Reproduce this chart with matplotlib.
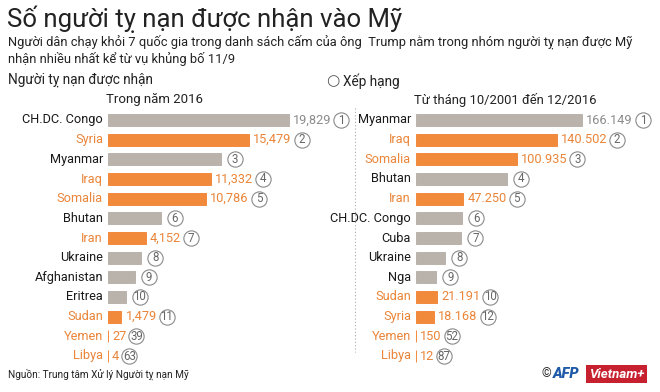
import matplotlib.pyplot as plt

plt.rcParams['font.family'] = ['Roboto', 'DejaVu Sans']

title = 'Số người tỵ nạn được nhận vào Mỹ'
subtitle = ('Người dân chạy khỏi 7 quốc gia trong danh sách cấm của ông  Trump nằm trong nhóm người tỵ nạn được Mỹ\n'
            'nhận nhiều nhất kể từ vụ khủng bố 11/9')
source = 'Nguồn: Trung tâm Xử lý Người tỵ nạn Mỹ'

# Trong nam 2016
countries_2016 = ['CH.DC. Congo', 'Syria', 'Myanmar', 'Iraq', 'Somalia', 'Bhutan', 'Iran',
                  'Ukraine', 'Afghanistan', 'Eritrea', 'Sudan', 'Yemen', 'Libya']
values_2016 = [19829, 15479, 12350, 11332, 10786, 5800, 4152, 3650, 2950, 1950, 1479, 27, 4]
labels_2016 = ['19,829', '15,479', '', '11,332', '10,786', '', '4,152', '', '', '', '1,479', '27', '4']
ranks_2016 = [1, 2, 3, 4, 5, 6, 7, 8, 9, 10, 11, 39, 63]
banned_2016 = [0, 1, 0, 1, 1, 0, 1, 0, 0, 0, 1, 1, 1]

# Tu thang 10/2001 den 12/2016
countries_all = ['Myanmar', 'Iraq', 'Somalia', 'Bhutan', 'Iran', 'CH.DC. Congo', 'Cuba',
                 'Ukraine', 'Nga', 'Sudan', 'Syria', 'Yemen', 'Libya']
values_all = [166149, 140502, 100935, 91000, 47250, 46500, 45500, 29500, 20500, 21191, 18168, 150, 12]
labels_all = ['166.149', '140.502', '100.935', '', '47.250', '', '', '', '', '21.191', '18.168', '150', '12']
ranks_all = [1, 2, 3, 4, 5, 6, 7, 8, 9, 10, 12, 52, 87]
banned_all = [0, 1, 1, 0, 1, 0, 0, 0, 0, 1, 1, 1, 1]

ORANGE = '#F28A3C'
ORANGE_TXT = '#EA8539'
GRAY = '#B9B3AC'
GRAY_TXT = '#8C8C8C'
W, H = 660, 392


def fx(px):
    return px / W


def fy(py):
    return 1 - py / H


fig = plt.figure(figsize=(6.6, 3.92), dpi=100)
fig.patch.set_facecolor('white')

fig.text(fx(7), fy(19), title, fontsize=18.5, va='center', ha='left', color='#222222')
fig.text(fx(8), fy(50.5), subtitle, fontsize=9.3, va='center', ha='left', color='#222222',
         linespacing=1.3)
fig.text(fx(8), fy(80), 'Người tỵ nạn được nhận', fontsize=9.8, va='center', ha='left', color='#222222')
fig.text(fx(333), fy(81), '○', fontsize=11, va='center', ha='center', color='#555555',
         family=['DejaVu Sans'])
fig.text(fx(343), fy(81), 'Xếp hạng', fontsize=9.8, va='center', ha='left', color='#222222')
fig.text(fx(154), fy(100), 'Trong năm 2016', fontsize=9.5, va='center', ha='center', color='#222222')
fig.text(fx(505), fy(100), 'Từ tháng 10/2001 đến 12/2016', fontsize=9.4, va='center', ha='center',
         color='#222222')
fig.text(fx(8), fy(374), source, fontsize=7.2, va='center', ha='left', color='#222222')

# dotted separator
fig.add_artist(plt.Line2D([fx(355), fx(355)], [fy(108), fy(352)], color='#AAAAAA',
                          linestyle=(0, (1, 2)), linewidth=0.8))

row_top, row_pitch = 120, (356 - 120) / 12
ax_top = row_top - row_pitch / 2
ax_h = row_pitch * 13


def panel(left_px, width_px, xmax, countries, values, labels, ranks, banned):
    ax = fig.add_axes([fx(left_px), fy(ax_top + ax_h), width_px / W, ax_h / H])
    ax.set_xlim(0, xmax)
    ax.set_ylim(12.5, -0.5)
    ax.axis('off')
    y = list(range(len(countries)))
    colors = [ORANGE if b else GRAY for b in banned]
    ax.barh(y, values, height=0.62, color=colors, edgecolor=colors, linewidth=0.7)
    fig.canvas.draw()
    r = fig.canvas.get_renderer()
    for i in y:
        tc = ORANGE_TXT if banned[i] else '#1a1a1a'
        ax.annotate(countries[i], (0, i), xytext=(-5, 0), textcoords='offset pixels',
                    ha='right', va='center', fontsize=9.2, color=tc)
        end = ax.transData.transform((values[i], i))
        if labels[i]:
            t = ax.annotate(labels[i], (values[i], i), xytext=(4, 0), textcoords='offset pixels',
                            ha='left', va='center', fontsize=9.2,
                            color=ORANGE_TXT if banned[i] else GRAY_TXT)
            bb = t.get_window_extent(r)
            cx = bb.x1 + 10
        else:
            cx = end[0] + 14
        dx = ax.transData.inverted().transform((cx, end[1]))[0]
        ax.plot([dx], [i], marker='o', markersize=11, markerfacecolor='white',
                markeredgecolor='#8A8A8A', markeredgewidth=0.8, clip_on=False)
        ax.text(dx, i, str(ranks[i]), ha='center', va='center', fontsize=8.3, color='#666666',
                clip_on=False)
    return ax


panel(108, 228, 25000, countries_2016, values_2016, labels_2016, ranks_2016, banned_2016)
panel(416, 230, 230000, countries_all, values_all, labels_all, ranks_all, banned_all)

# logo
fig.text(fx(546), fy(374), '©', fontsize=9, va='center', ha='center', color='#333333')
fig.text(fx(553), fy(374), 'AFP', fontsize=10.5, va='center', ha='left', color='#1F5AA8',
         weight='heavy', style='italic')
fig.text(fx(589), fy(374), 'Vietnam+', fontsize=9.5, va='center', ha='left', color='white',
         weight='bold', style='italic',
         bbox=dict(boxstyle='square,pad=0.2', facecolor='#C7202E', edgecolor='none'))

fig.savefig('out.png', dpi=100)
